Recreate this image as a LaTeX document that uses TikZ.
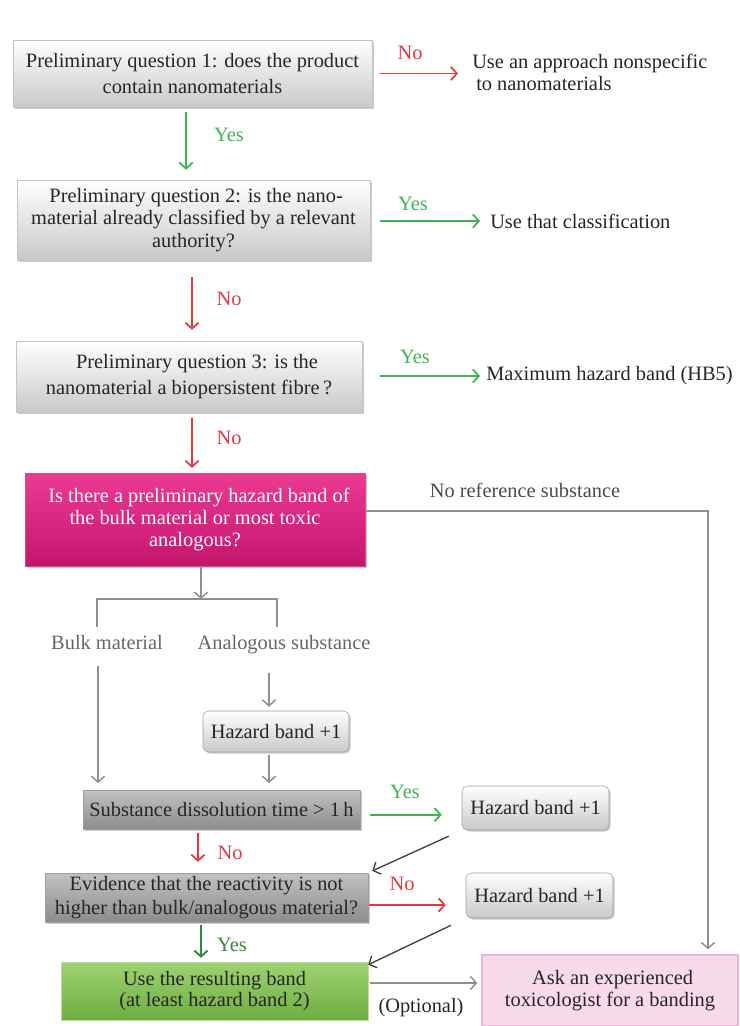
\documentclass[tikz,border=0pt]{standalone}
\usepackage{fontspec}
\setmainfont{Liberation Serif}
\usetikzlibrary{arrows.meta,shadows}

\definecolor{ink}{HTML}{262626}
\definecolor{nored}{HTML}{E8383D}
\definecolor{yesgreen}{HTML}{3DB54F}
\definecolor{deepgreen}{HTML}{2E8B3E}
\definecolor{linegray}{HTML}{8F8F8F}
\definecolor{labelgray}{HTML}{666666}
\definecolor{qline}{HTML}{C4C4C4}
\definecolor{qbottom}{HTML}{C9C9C9}
\definecolor{dtop}{HTML}{C2C2C2}
\definecolor{dbottom}{HTML}{8C8C8C}
\definecolor{dline}{HTML}{9E9E9E}
\definecolor{magtop}{HTML}{EC3A94}
\definecolor{magbottom}{HTML}{C4156E}
\definecolor{magline}{HTML}{D44A8C}
\definecolor{restop}{HTML}{9FD270}
\definecolor{resbottom}{HTML}{6DAE42}
\definecolor{resline}{HTML}{B9DC97}
\definecolor{askfill}{HTML}{F9DAEB}
\definecolor{askline}{HTML}{EFB5D4}

\newcommand{\fs}[1]{\fontsize{15.3}{#1}\selectfont}

\begin{document}
\begin{tikzpicture}[x=0.75pt,y=-0.75pt,
  font=\fs{17}, text=ink,
  wh/.style 2 args={minimum width=#1*0.75pt,minimum height=#2*0.75pt},
  base/.style={inner sep=0pt, align=center},
  shade/.style={drop shadow={shadow xshift=1.2pt,shadow yshift=-1.2pt,opacity=0.35,fill=black!60}},
  qbox/.style={base, draw=qline, top color=white, bottom color=qbottom, shade},
  darkbox/.style={base, draw=dline, top color=dtop, bottom color=dbottom, shade},
  hzbox/.style={base, rounded corners=4pt, draw=dline, top color=white, bottom color=qbottom, shade},
  magbox/.style={base, draw=magline, top color=magtop, bottom color=magbottom, text=white, shade},
  resbox/.style={base, draw=resline, top color=restop, bottom color=resbottom},
  askbox/.style={base, draw=askline, line width=1pt, fill=askfill},
  plain/.style={inner sep=0pt},
  tip/.style={-{Straight Barb[length=4.5pt,width=10pt]}},
  redarr/.style={tip, draw=nored, line width=1.3pt},
  greenarr/.style={tip, draw=yesgreen, line width=1.3pt},
  dgreenarr/.style={tip, draw=deepgreen, line width=1.4pt},
  grayarr/.style={tip, draw=linegray, line width=1.1pt},
  darkarr/.style={tip, draw=black!75, line width=1pt},
  bracket/.style={draw=linegray, line width=2pt},
  nolbl/.style={plain, text=nored},
  yeslbl/.style={plain, text=yesgreen},
  dyeslbl/.style={plain, text=deepgreen},
  graylbl/.style={plain, text=labelgray}
]
\useasboundingbox (0,0) rectangle (740,1026);

% --- preliminary questions ---
\node[qbox, wh={359}{67}, font=\fs{19.5}] (q1) at (192.5,73.5)
  {Preliminary question 1: does the product\\contain nanomaterials};
\node[qbox, wh={353}{80}] (q2) at (193.5,220)
  {\hspace{4pt}Preliminary question 2: is the nano-\\material already classified by a relevant\\authority?};
\node[qbox, wh={346}{71}, font=\fs{19.5}] (q3) at (189,376.5)
  {\hspace{12pt}Preliminary question 3: is the\\nanomaterial a biopersistent fibre\,?};

% --- outcomes on the right ---
\node[plain, anchor=west, align=left] (t1) at (472,72.5)
  {Use an approach nonspecific\\\hspace{3pt}to nanomaterials};
\node[plain, anchor=west] (t2) at (490,221) {Use that classification};
\node[plain, anchor=west] (t3) at (486,376) {Maximum hazard band (HB5)};

% --- reference substance question ---
\node[magbox, wh={340}{93}, font=\fs{16.5}] (mag) at (195,519.5)
  {\hspace{6pt}Is there a preliminary hazard band of\\the bulk material or most toxic\\analogous?};
\node[plain, text=black!70] (noref) at (525,490) {No reference substance};

\coordinate (split) at (201,599);
\coordinate (brL) at (97,627);
\coordinate (brR) at (277,627);
\node[graylbl] (bulk) at (107,643) {Bulk material};
\node[graylbl] (analog) at (284,645) {Analogous substance};

\node[hzbox, wh={146}{41}] (hz0) at (276,731.5) {Hazard band +1};
\node[darkbox, wh={277}{39}] (sub) at (221.5,809.5) {Substance dissolution time > 1\,h};
\node[hzbox, wh={147}{44}] (hz1) at (535.5,808) {Hazard band +1};
\node[darkbox, wh={323}{49}, font=\fs{18}] (evi) at (206.5,897.5)
  {Evidence that the reactivity is not\\higher than bulk/analogous material?};
\node[hzbox, wh={147}{45}] (hz2) at (539.5,895.5) {Hazard band +1};
\node[resbox, wh={307}{58}, font=\fs{16}] (res) at (214.5,991)
  {Use the resulting band\\(at least hazard band 2)};
\node[askbox, wh={256}{71}] (ask) at (610,990.5)
  {\hspace{4pt}Ask an experienced\\toxicologist for a banding};

% --- column helpers for vertical arrows ---
\coordinate (x186) at (186,0);
\coordinate (x192) at (192,0);
\coordinate (x98)  at (98,0);
\coordinate (x269) at (269,0);
\coordinate (x198) at (198,0);
\coordinate (x201) at (201,0);
\coordinate (x708) at (708,0);

% --- connectors: preliminary questions ---
\draw[redarr, shorten <=6pt, shorten >=10.5pt] (q1.east) -- (q1.east -| t1.west);
\node[nolbl] at (410,53) {No};
\draw[greenarr, shorten <=3.7pt, shorten >=7.5pt] (q1.south -| x186) -- (q2.north -| x186);
\node[yeslbl] at (229,135) {Yes};

\draw[greenarr, shorten <=7.5pt, shorten >=7.5pt] (q2.east |- t2.west) -- (t2.west);
\node[yeslbl] at (413,204) {Yes};
\draw[redarr, shorten <=12.7pt, shorten >=8.2pt] (q2.south -| x192) -- (q3.north -| x192);
\node[nolbl] at (229,299) {No};

\draw[greenarr, shorten <=13.5pt, shorten >=4.5pt] (q3.east |- t3.west) -- (t3.west);
\node[yeslbl] at (415,357) {Yes};
\draw[redarr, shorten <=4.5pt, shorten >=3.7pt] (q3.south -| x192) -- (mag.north -| x192);
\node[nolbl] at (229,438) {No};

% --- no reference substance branch ---
\draw[grayarr, shorten >=3.7pt] ([yshift=6.4pt]mag.east) -| (ask.north -| x708);

% --- bulk / analogous split ---
\draw[grayarr] (mag.south -| split) -- (split);
\draw[bracket] (brL) |- (split) -| (brR);
\draw[grayarr, shorten <=12pt, shorten >=5pt] (bulk.south -| x98) -- (sub.north -| x98);
\draw[grayarr, shorten <=14pt, shorten >=3pt] (analog.south -| x269) -- (hz0.north -| x269);
\draw[grayarr, shorten <=2.3pt, shorten >=5pt] (hz0.south -| x269) -- (sub.north -| x269);

% --- dissolution and reactivity checks ---
\draw[greenarr, shorten <=7.5pt, shorten >=15pt] ([yshift=-4pt]sub.east) -- ([yshift=-4pt]sub.east -| hz1.west);
\node[yeslbl] at (405,792) {Yes};
\draw[darkarr, shorten <=10.7pt, shorten >=3.3pt] (hz1.south west) -- (evi.north east);
\draw[redarr, shorten <=3pt, shorten >=8.2pt] (sub.south -| x198) -- (evi.north -| x198);
\node[nolbl] at (230,853) {No};

\draw[redarr, shorten <=0.8pt, shorten >=15pt] ([yshift=-5.6pt]evi.east) -- ([yshift=-5.6pt]evi.east -| hz2.west);
\node[nolbl] at (402,884) {No};
\draw[darkarr, shorten <=12.3pt] (hz2.south west) -- ([yshift=-2.2pt]res.north east);
\draw[dgreenarr, shorten <=2.3pt, shorten >=3pt] (evi.south -| x201) -- (res.north -| x201);
\node[dyeslbl] at (232,945) {Yes};

% --- optional expert advice ---
\draw[grayarr, shorten <=1.5pt, shorten >=3pt] ([yshift=6pt]res.east) -- ([yshift=6pt]res.east -| ask.west);
\node[plain] at (421,1008) {(Optional)};

\end{tikzpicture}
\end{document}
